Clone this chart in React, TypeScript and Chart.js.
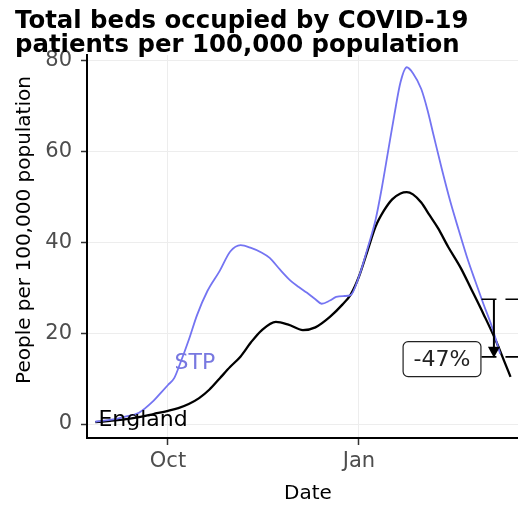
import React, { useEffect, useRef } from "react";
import { Chart, registerables } from "chart.js";

Chart.register(...registerables);

// ---- data ----
const englandDates = [
  "2020-08-27", "2020-09-03", "2020-09-10", "2020-09-17", "2020-09-24", "2020-10-01",
  "2020-10-06", "2020-10-11", "2020-10-16", "2020-10-21", "2020-10-26", "2020-10-31",
  "2020-11-05", "2020-11-10", "2020-11-15", "2020-11-22", "2020-11-28", "2020-12-05",
  "2020-12-11", "2020-12-18", "2020-12-24", "2020-12-28", "2021-01-01", "2021-01-05",
  "2021-01-09", "2021-01-13", "2021-01-17", "2021-01-21", "2021-01-24", "2021-01-27",
  "2021-01-31", "2021-02-04", "2021-02-08", "2021-02-13", "2021-02-19", "2021-02-24",
  "2021-03-02", "2021-03-08", "2021-03-12", "2021-03-15",
];
const englandValues = [
  0.4, 0.7, 1.0, 1.5, 2.2, 2.9,
  3.5, 4.4, 5.7, 7.6, 10.1, 12.6,
  14.9, 18.0, 20.6, 22.5, 21.9, 20.7,
  21.3, 23.6, 26.3, 28.5, 32.5, 38.0,
  43.5, 47.0, 49.5, 50.8, 51.1, 50.6,
  48.8, 46.0, 43.2, 39.0, 34.4, 29.8,
  24.2, 18.3, 13.8, 10.4,
];

const stpDates = [
  "2020-08-27", "2020-09-03", "2020-09-10", "2020-09-17", "2020-09-24", "2020-09-28",
  "2020-10-01", "2020-10-04", "2020-10-07", "2020-10-11", "2020-10-15", "2020-10-20",
  "2020-10-26", "2020-10-31", "2020-11-05", "2020-11-10", "2020-11-15", "2020-11-19",
  "2020-11-24", "2020-11-29", "2020-12-03", "2020-12-07", "2020-12-11", "2020-12-14",
  "2020-12-18", "2020-12-21", "2020-12-25", "2020-12-28", "2021-01-01", "2021-01-05",
  "2021-01-09", "2021-01-12", "2021-01-15", "2021-01-18", "2021-01-21", "2021-01-24",
  "2021-01-27", "2021-01-31", "2021-02-03", "2021-02-06", "2021-02-10", "2021-02-14",
  "2021-02-18", "2021-02-22", "2021-02-26", "2021-03-02", "2021-03-06", "2021-03-10",
];
const stpValues = [
  0.5, 0.9, 1.6, 2.5, 5.1, 7.1,
  8.6, 10.1, 13.5, 18.5, 24.0, 29.3,
  33.8, 38.0, 39.4, 38.8, 37.8, 36.6,
  34.0, 31.6, 30.2, 28.9, 27.5, 26.5,
  27.2, 28.0, 28.2, 28.4, 32.5, 38.5,
  45.0, 52.0, 60.0, 68.0, 75.3, 78.6,
  77.3, 73.8, 69.2, 63.5, 56.0, 49.0,
  42.8, 36.8, 31.5, 26.4, 21.5, 15.5,
];

const xTickDates = ["2020-10-01", "2021-01-01"];
const xTickLabels = ["Oct", "Jan"];
const yTicks = [0, 20, 40, 60, 80];

// annotation content
const titleLines = ["Total beds occupied by COVID-19", "patients per 100,000 population"];
const changeStartDate = "2021-03-01";
const changeArrowDate = "2021-03-07";
const changeValues = [27.5, 14.8]; // before, after
const changeLabel = "-47%";
const changeLabelPos = { date: "2021-02-10", value: 14.3 };
const stpLabelPos = { date: "2020-10-14", value: 13.4 };
const englandLabelPos = { date: "2020-09-19", value: 0.9 };

const BASE = Date.UTC(2020, 9, 1);
const dayOf = (d: string) => (Date.parse(d + "T00:00:00Z") - BASE) / 86400000;

const FONT = '"DejaVu Sans", sans-serif';

export default function App() {
  const ref = useRef<HTMLCanvasElement | null>(null);

  useEffect(() => {
    const canvas = ref.current;
    if (!canvas) return;

    const overlay = {
      id: "overlay",
      afterDraw(chart: any) {
        const ctx = chart.ctx as CanvasRenderingContext2D;
        const xs = chart.scales.x;
        const ys = chart.scales.y;
        const area = chart.chartArea;
        ctx.save();

        // text labels on lines
        ctx.textAlign = "center";
        ctx.textBaseline = "middle";
        ctx.font = `22px ${FONT}`;
        ctx.fillStyle = "#7878e0";
        ctx.fillText("STP", xs.getPixelForValue(dayOf(stpLabelPos.date)), ys.getPixelForValue(stpLabelPos.value));
        ctx.fillStyle = "#000";
        ctx.fillText("England", xs.getPixelForValue(dayOf(englandLabelPos.date)), ys.getPixelForValue(englandLabelPos.value));

        // change annotation
        const x0 = xs.getPixelForValue(dayOf(changeStartDate));
        const xa = xs.getPixelForValue(dayOf(changeArrowDate));
        const yb = ys.getPixelForValue(changeValues[0]);
        const yaf = ys.getPixelForValue(changeValues[1]);
        ctx.strokeStyle = "#000";
        ctx.lineWidth = 1.6;
        ctx.setLineDash([15, 9]);
        ctx.beginPath();
        ctx.moveTo(x0, yb);
        ctx.lineTo(area.right + 20, yb);
        ctx.moveTo(x0, yaf);
        ctx.lineTo(area.right + 20, yaf);
        ctx.stroke();
        ctx.setLineDash([]);
        ctx.lineWidth = 2;
        ctx.beginPath();
        ctx.moveTo(xa, yb);
        ctx.lineTo(xa, yaf - 8);
        ctx.stroke();
        ctx.fillStyle = "#000";
        ctx.beginPath();
        ctx.moveTo(xa, yaf + 1);
        ctx.lineTo(xa - 6, yaf - 10);
        ctx.lineTo(xa + 6, yaf - 10);
        ctx.closePath();
        ctx.fill();

        // label box
        const lx = xs.getPixelForValue(dayOf(changeLabelPos.date));
        const ly = ys.getPixelForValue(changeLabelPos.value);
        ctx.font = `22px ${FONT}`;
        const tw = ctx.measureText(changeLabel).width;
        const bw = tw + 21;
        const bh = 35;
        ctx.beginPath();
        (ctx as any).roundRect(lx - bw / 2, ly - bh / 2, bw, bh, 5);
        ctx.fillStyle = "#fff";
        ctx.fill();
        ctx.lineWidth = 1.2;
        ctx.strokeStyle = "#222";
        ctx.stroke();
        ctx.fillStyle = "#222";
        ctx.textAlign = "center";
        ctx.textBaseline = "middle";
        ctx.fillText(changeLabel, lx, ly + 1);

        // axis titles
        ctx.fillStyle = "#000";
        ctx.font = `20px ${FONT}`;
        ctx.fillText("Date", 308, 494);
        ctx.save();
        ctx.translate(25, 230);
        ctx.rotate(-Math.PI / 2);
        ctx.fillText("People per 100,000 population", 0, 0);
        ctx.restore();

        // title
        ctx.textAlign = "left";
        ctx.textBaseline = "alphabetic";
        ctx.font = `bold 24.4px ${FONT}`;
        ctx.fillStyle = "#000";
        ctx.fillText(titleLines[0], 15, 28);
        ctx.fillText(titleLines[1], 15, 52);

        ctx.restore();
      },
    };

    const chart = new Chart(canvas, {
      type: "line",
      data: {
        datasets: [
          {
            label: "STP",
            data: stpDates.map((d, i) => ({ x: dayOf(d), y: stpValues[i] })),
            borderColor: "#7474f2",
            borderWidth: 1.8,
            pointRadius: 0,
            tension: 0.4,
            cubicInterpolationMode: "monotone",
          },
          {
            label: "England",
            data: englandDates.map((d, i) => ({ x: dayOf(d), y: englandValues[i] })),
            borderColor: "#000",
            borderWidth: 2.3,
            pointRadius: 0,
            tension: 0.4,
            cubicInterpolationMode: "monotone",
          },
        ],
      },
      options: {
        animation: false,
        responsive: false,
        events: [],
        layout: { padding: { top: 55, left: 0, right: 0, bottom: 0 } },
        plugins: {
          legend: { display: false },
          tooltip: { enabled: false },
          title: { display: false },
        },
        scales: {
          x: {
            type: "linear",
            min: -39,
            max: 168.6,
            afterFit: (s: any) => {
              s.height = 69;
            },
            afterBuildTicks: (s: any) => {
              s.ticks = xTickDates.map((d) => ({ value: dayOf(d) }));
            },
            ticks: {
              callback: (_v: any, i: number) => xTickLabels[i],
              color: "#4d4d4d",
              font: { family: FONT, size: 21 },
              padding: 4,
              maxRotation: 0,
              autoSkip: false,
            },
            grid: { color: "#ededed", lineWidth: 1, tickColor: "#333", tickLength: 7, tickWidth: 1.5 },
            border: { color: "#000", width: 2 },
          },
          y: {
            min: -3.08,
            max: 81.3,
            afterFit: (s: any) => {
              s.width = 87;
            },
            afterBuildTicks: (s: any) => {
              s.ticks = yTicks.map((v) => ({ value: v }));
            },
            ticks: {
              color: "#4d4d4d",
              font: { family: FONT, size: 21 },
              padding: 9,
            },
            grid: { color: "#ededed", lineWidth: 1, tickColor: "#333", tickLength: 6, tickWidth: 1.5 },
            border: { color: "#000", width: 2 },
          },
        },
      },
      plugins: [overlay],
    } as any);

    return () => chart.destroy();
  }, []);

  return (
    <div style={{ position: "absolute", left: 0, top: 0, width: 518, height: 507, background: "#fff" }}>
      <canvas ref={ref} width={518} height={507} style={{ display: "block" }} />
    </div>
  );
}
